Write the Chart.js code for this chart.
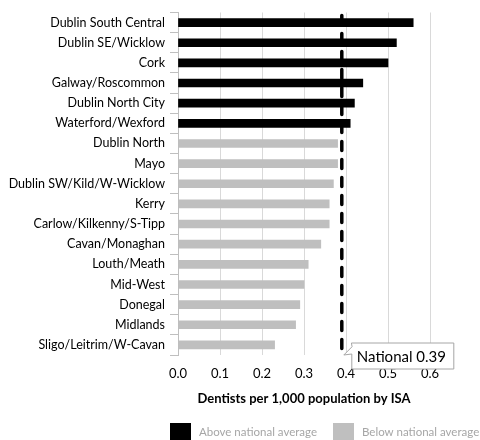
<!DOCTYPE html>
<html>
<head>
<meta charset="utf-8">
<script src="https://cdn.jsdelivr.net/npm/chart.js@4.4.1/dist/chart.umd.min.js"></script>
<style>
  body { margin: 0; background: #fff; }
  #wrap { width: 480px; height: 440px; }
</style>
</head>
<body>
<div id="wrap"><canvas id="chart" width="480" height="440"></canvas></div>
<script>
const areas = ["Dublin South Central", "Dublin SE/Wicklow", "Cork", "Galway/Roscommon",
  "Dublin North City", "Waterford/Wexford", "Dublin North", "Mayo", "Dublin SW/Kild/W-Wicklow",
  "Kerry", "Carlow/Kilkenny/S-Tipp", "Cavan/Monaghan", "Louth/Meath", "Mid-West",
  "Donegal", "Midlands", "Sligo/Leitrim/W-Cavan"];
const above = [0.56, 0.52, 0.50, 0.44, 0.42, 0.41, null, null, null, null, null, null, null, null, null, null, null];
const below = [null, null, null, null, null, null, 0.38, 0.38, 0.37, 0.36, 0.36, 0.34, 0.31, 0.30, 0.29, 0.28, 0.23];
const national = 0.39;
const xTicks = [0, 0.1, 0.2, 0.3, 0.4, 0.5, 0.6];

const font = "Lato, 'Open Sans', sans-serif";

// ligne nationale + étiquette
const nationalLine = {
  id: "nationalLine",
  afterDatasetsDraw(chart) {
    const ctx = chart.ctx;
    const a = chart.chartArea;
    const x = chart.scales.x.getPixelForValue(national);
    ctx.save();
    ctx.strokeStyle = "#000";
    ctx.lineWidth = 3.5;
    ctx.lineCap = "round";
    ctx.setLineDash([9, 9]);
    ctx.beginPath();
    ctx.moveTo(x, a.top + 3);
    ctx.lineTo(x, a.bottom);
    ctx.stroke();
    ctx.setLineDash([]);

    const bx = x + 10, by = a.bottom - 12, bw = 102, bh = 26;
    ctx.fillStyle = "#fff";
    ctx.strokeStyle = "#a6a6a6";
    ctx.lineWidth = 1;
    ctx.beginPath();
    ctx.moveTo(bx, by);
    ctx.lineTo(bx + bw, by);
    ctx.lineTo(bx + bw, by + bh);
    ctx.lineTo(bx, by + bh);
    ctx.lineTo(bx, by + 11);
    ctx.lineTo(x + 2, by + 12);
    ctx.lineTo(bx, by + 4);
    ctx.closePath();
    ctx.fill();
    ctx.stroke();
    ctx.fillStyle = "#000";
    ctx.font = "15px " + font;
    ctx.textBaseline = "middle";
    ctx.fillText("National " + national, bx + 5, by + bh / 2 + 1);
    ctx.restore();
  }
};

// légende dessinée à la main (placée comme dans l'original)
const legendBottom = {
  id: "legendBottom",
  afterDraw(chart) {
    const ctx = chart.ctx;
    const xs = [170, 333];
    ctx.save();
    ctx.font = "11.5px " + font;
    ctx.textBaseline = "middle";
    chart.data.datasets.forEach((ds, i) => {
      ctx.fillStyle = ds.backgroundColor;
      ctx.fillRect(xs[i], 423, 21, 18);
      ctx.fillStyle = "#a6a6a6";
      ctx.fillText(ds.label, xs[i] + 29, 432);
    });
    ctx.restore();
  }
};

const chart = new Chart(document.getElementById("chart"), {
  type: "bar",
  data: {
    labels: areas,
    datasets: [
      { label: "Above national average", data: above, backgroundColor: "#000000", barThickness: 8, grouped: false },
      { label: "Below national average", data: below, backgroundColor: "#bfbfbf", barThickness: 8, grouped: false }
    ]
  },
  options: {
    indexAxis: "y",
    responsive: false,
    animation: false,
    layout: { padding: { top: 12, right: 50, left: 0, bottom: 33 } },
    scales: {
      x: {
        min: 0,
        max: 0.6,
        afterBuildTicks(scale) { scale.ticks = xTicks.map(v => ({ value: v })); },
        afterFit(scale) { scale.height = 52; },
        grid: { color: "#d9d9d9", drawTicks: false },
        border: { display: false },
        ticks: {
          padding: 11,
          color: "#000",
          font: { family: font, size: 13 },
          callback: v => v.toFixed(1)
        },
        title: {
          display: true,
          text: "Dentists per 1,000 population by ISA",
          color: "#000",
          font: { family: font, size: 13, weight: "bold" },
          padding: { top: 9, bottom: 0 }
        }
      },
      y: {
        afterFit(scale) { scale.width = 178; },
        grid: { drawOnChartArea: false, tickLength: 8, color: "#bfbfbf" },
        border: { display: true, color: "#bfbfbf" },
        ticks: {
          padding: 5,
          color: "#000",
          font: { family: font, size: 12.5 }
        }
      }
    },
    plugins: {
      legend: { display: false },
      tooltip: { enabled: false }
    }
  },
  plugins: [nationalLine, legendBottom]
});
</script>
</body>
</html>
